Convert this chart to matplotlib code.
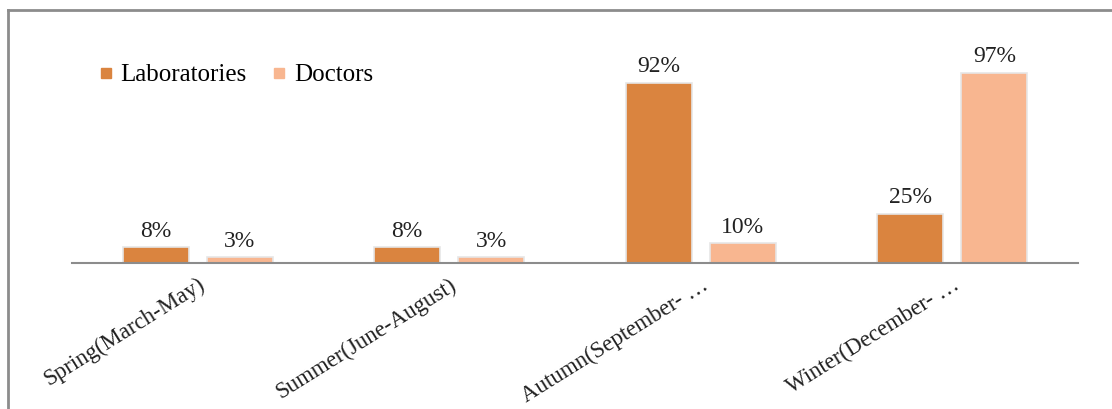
import matplotlib
matplotlib.use("Agg")
import matplotlib.pyplot as plt
from matplotlib.lines import Line2D
import numpy as np

categories = ["Spring(March-May)", "Summer(June-August)",
              "Autumn(September- \u2026", "Winter(December- \u2026"]
laboratories = [8, 8, 92, 25]
doctors = [3, 3, 10, 97]
series_names = ["Laboratories", "Doctors"]

LAB_COLOR = "#DA843F"
DOC_COLOR = "#F8B690"
SERIF = ["Liberation Serif", "DejaVu Serif"]

W, H = 1112, 409
fig = plt.figure(figsize=(W / 100, H / 100), dpi=100)
ax = fig.add_axes([72 / W, (H - 263) / H, (1078 - 72) / W, (263 - 20) / H])

x = np.arange(len(categories))
bw = 0.263
off = 0.167
bars_lab = ax.bar(x - off, laboratories, bw, color=LAB_COLOR,
                  edgecolor="#e6e6e6", linewidth=1.2, zorder=2)
bars_doc = ax.bar(x + off, doctors, bw, color=DOC_COLOR,
                  edgecolor="#e6e6e6", linewidth=1.2, zorder=2)

for bars, vals in ((bars_lab, laboratories), (bars_doc, doctors)):
    for b, v in zip(bars, vals):
        ax.annotate(f"{v}%", (b.get_x() + b.get_width() / 2, v),
                    xytext=(0, 4), textcoords="offset points",
                    ha="center", va="bottom", fontsize=17,
                    family=SERIF, color="#222222")

ax.set_xlim(-0.5, len(categories) - 0.5)
ax.set_ylim(0, 124)
ax.set_yticks([])
ax.set_xticks(x)
ax.set_xticklabels(categories, rotation=32, ha="right",
                   rotation_mode="anchor", fontsize=16.5, family=SERIF,
                   color="#222222")
ax.tick_params(axis="x", length=0, pad=8)
for s in ("top", "right", "left"):
    ax.spines[s].set_visible(False)
ax.spines["bottom"].set_color("#8c8c8c")
ax.spines["bottom"].set_linewidth(1.5)

handles = [Line2D([], [], marker="s", linestyle="none", markersize=7,
                  markerfacecolor=c, markeredgecolor=c)
           for c in (LAB_COLOR, DOC_COLOR)]
fig.legend(handles, series_names, loc="center left",
           bbox_to_anchor=(73 / W, 1 - 75 / H), ncol=2, frameon=False,
           prop={"family": SERIF, "size": 18}, handletextpad=0.2,
           columnspacing=0.9, handlelength=0.8)

# outer chart border (top and left edges visible)
fig.add_artist(Line2D([8 / W, 1.0], [1 - 10 / H, 1 - 10 / H],
                      transform=fig.transFigure, color="#8c8c8c", lw=2))
fig.add_artist(Line2D([8 / W, 8 / W], [0, 1 - 10 / H],
                      transform=fig.transFigure, color="#8c8c8c", lw=2))

fig.savefig("out.png", dpi=100)
